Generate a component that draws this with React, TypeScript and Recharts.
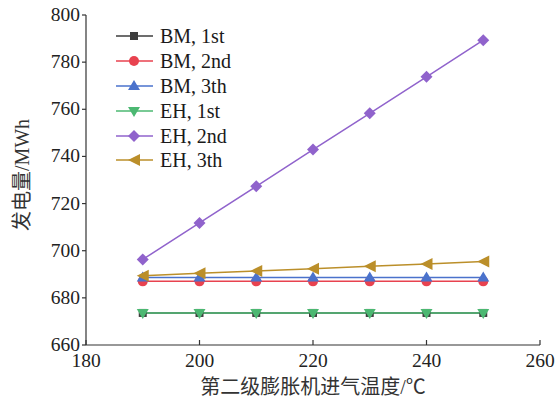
import React from 'react';
import { LineChart, Line, XAxis, YAxis } from 'recharts';

// inlet temperature of the second expander (°C)
const temps = [190, 200, 210, 220, 230, 240, 250];

// generated energy (MWh) per case
const bm1st = [673.6, 673.6, 673.6, 673.6, 673.6, 673.6, 673.6];
const bm2nd = [687, 687, 687, 687, 687, 687, 687];
const bm3th = [688.6, 688.6, 688.6, 688.6, 688.6, 688.6, 688.6];
const eh1st = [673.6, 673.6, 673.6, 673.6, 673.6, 673.6, 673.6];
const eh2nd = [696.3, 711.8, 727.3, 742.9, 758.3, 773.8, 789.3];
const eh3th = [689.4, 690.4, 691.4, 692.4, 693.4, 694.4, 695.4];

const xTicks = [180, 200, 220, 240, 260];
const yTicks = [660, 680, 700, 720, 740, 760, 780, 800];

const FONT = "'Liberation Serif', 'Times New Roman', 'Noto Sans CJK SC', serif";
const AXIS = '#333';

type Shape = 'square' | 'circle' | 'up' | 'down' | 'diamond' | 'left';

const SERIES: { key: string; name: string; color: string; shape: Shape }[] = [
  { key: 'bm1', name: 'BM, 1st', color: '#3d3d3d', shape: 'square' },
  { key: 'bm2', name: 'BM, 2nd', color: '#e8424f', shape: 'circle' },
  { key: 'bm3', name: 'BM, 3th', color: '#4a72cc', shape: 'up' },
  { key: 'eh1', name: 'EH, 1st', color: '#4cb872', shape: 'down' },
  { key: 'eh2', name: 'EH, 2nd', color: '#9063cc', shape: 'diamond' },
  { key: 'eh3', name: 'EH, 3th', color: '#bb8f2a', shape: 'left' },
];

const data = temps.map((t, i) => ({
  t,
  bm1: bm1st[i],
  bm2: bm2nd[i],
  bm3: bm3th[i],
  eh1: eh1st[i],
  eh2: eh2nd[i],
  eh3: eh3th[i],
}));

function Marker({ x, y, shape, color }: { x: number; y: number; shape: Shape; color: string }) {
  const s = 5;
  switch (shape) {
    case 'square':
      return <rect x={x - 4} y={y - 4} width={8} height={8} fill={color} />;
    case 'circle':
      return <circle cx={x} cy={y} r={5} fill={color} />;
    case 'up':
      return <polygon points={`${x},${y - s - 1} ${x + s + 1},${y + s - 1} ${x - s - 1},${y + s - 1}`} fill={color} />;
    case 'down':
      return <polygon points={`${x},${y + s + 1} ${x + s + 1},${y - s + 1} ${x - s - 1},${y - s + 1}`} fill={color} />;
    case 'diamond':
      return <polygon points={`${x},${y - s - 1} ${x + s + 1},${y} ${x},${y + s + 1} ${x - s - 1},${y}`} fill={color} />;
    case 'left':
      return <polygon points={`${x - s - 1},${y} ${x + s + 1},${y - s - 1} ${x + s + 1},${y + s + 1}`} fill={color} />;
  }
  return null;
}

const renderDot = (shape: Shape, color: string) => (props: any) => (
  <Marker key={`${shape}-${props.index}`} x={props.cx} y={props.cy} shape={shape} color={color} />
);

// legend sits inside the plot, top-left
const LegendBox = () => (
  <div style={{ position: 'absolute', left: 116, top: 24 }}>
    {SERIES.map((s) => (
      <div key={s.key} style={{ display: 'flex', alignItems: 'center', height: 24.8 }}>
        <svg width={38} height={20} style={{ display: 'block' }}>
          <line x1={0} y1={10} x2={37} y2={10} stroke={s.color} strokeWidth={1.5} />
          <Marker x={18} y={10} shape={s.shape} color={s.color} />
        </svg>
        <span style={{ fontFamily: FONT, fontSize: 20, color: '#1a1a1a', marginLeft: 6, lineHeight: 1 }}>{s.name}</span>
      </div>
    ))}
  </div>
);

// bottom axis ticks point into the plot
const XTick = (props: any) => {
  const { x, y, payload } = props;
  return (
    <g>
      <line x1={x} y1={y} x2={x} y2={y - 5} stroke={AXIS} strokeWidth={1.2} />
      <text x={x} y={y + 22} textAnchor='middle' style={{ fontFamily: FONT, fontSize: 19.5, fill: '#222' }}>
        {payload.value}
      </text>
    </g>
  );
};

const YTick = (props: any) => {
  const { x, y, payload } = props;
  return (
    <text x={x} y={y} dy={6} textAnchor='end' style={{ fontFamily: FONT, fontSize: 19.5, fill: '#222' }}>
      {payload.value}
    </text>
  );
};

export default function App() {
  return (
    <div style={{ position: 'absolute', left: 0, top: 0, width: 557, height: 397, background: '#fff' }}>
      <LineChart width={557} height={397} data={data} margin={{ top: 15, right: 17, bottom: 0, left: 0 }}>
        <XAxis
          dataKey='t'
          type='number'
          domain={[180, 260]}
          ticks={xTicks}
          tickSize={0}
          tickMargin={0}
          tick={<XTick />}
          height={52}
          stroke={AXIS}
          strokeWidth={1.2}
          label={{
            value: '第二级膨胀机进气温度/℃',
            position: 'insideBottom',
            offset: 3,
            style: { fontFamily: FONT, fontSize: 20, fill: '#333' },
          }}
        />
        <YAxis
          type='number'
          domain={[660, 800]}
          ticks={yTicks}
          width={86}
          tickSize={4}
          tickMargin={2}
          stroke={AXIS}
          strokeWidth={1.2}
          tick={<YTick />}
          label={{
            value: '发电量/MWh',
            angle: -90,
            position: 'insideLeft',
            offset: 22,
            dy: -5,
            style: { fontFamily: FONT, fontSize: 20, fill: '#333', textAnchor: 'middle' },
          }}
        />
        {SERIES.map((s) => (
          <Line
            key={s.key}
            dataKey={s.key}
            name={s.name}
            stroke={s.color}
            strokeWidth={1.5}
            dot={renderDot(s.shape, s.color)}
            activeDot={false}
            isAnimationActive={false}
          />
        ))}
      </LineChart>
      <LegendBox />
    </div>
  );
}
